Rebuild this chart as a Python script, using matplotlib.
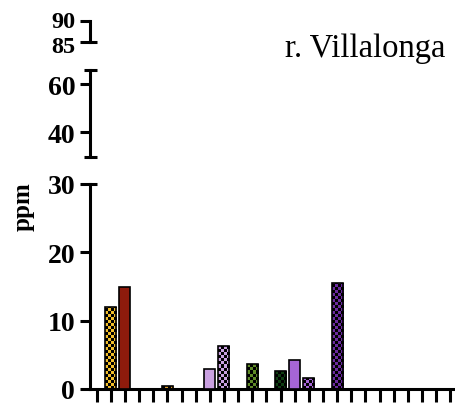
import numpy as np
import matplotlib
matplotlib.use("Agg")
import matplotlib.pyplot as plt
from matplotlib.colors import ListedColormap
from matplotlib.lines import Line2D
from matplotlib.transforms import ScaledTranslation

# ---- data ----
positions = [1, 2, 5, 8, 9, 11, 13, 14, 15, 17]
values = [12.0, 14.9, 0.5, 2.9, 6.3, 3.7, 2.7, 4.3, 1.6, 15.5]
colors = ["#F2BE2A", "#8E1B0C", "#E0A030", "#C9A0E0", "#C9A0E0",
          "#5E8A26", "#0F3F12", "#A665D6", "#A665D6", "#6A2A9E"]
patterns = ["checker", "solid", "checker", "solid", "checker",
            "checker", "checker", "solid", "checker", "checker"]
n_ticks = 26
bottom_ticks = [0, 10, 20, 30]
middle_ticks = [40, 60]
top_ticks = [85, 90]
title = "r. Villalonga"
ylabel = "ppm"

W, H = 455, 406
fig = plt.figure(figsize=(W / 100, H / 100), dpi=100)
serif = ["Liberation Serif", "DejaVu Serif"]
plt.rcParams["font.family"] = serif

xl = (-0.47, 25.33)
left = 90 / W
width = (W - 90) / W
lw_spine = 2.2
tick_fs = 20

def fr(ytop, ybot):
    return (H - ybot) / H, (ybot - ytop) / H

b0, h0 = fr(185, 390)
b1, h1 = fr(71, 158.3)
b2, h2 = fr(21.7, 43.3)
ax_b = fig.add_axes([left, b0, width, h0])
ax_m = fig.add_axes([left, b1, width, h1])
ax_t = fig.add_axes([left, b2, width, h2])

for ax in (ax_b, ax_m, ax_t):
    ax.set_xlim(*xl)
    for s in ("top", "right"):
        ax.spines[s].set_visible(False)
    ax.spines["left"].set_linewidth(lw_spine)
    ax.spines["bottom"].set_linewidth(lw_spine)
    ax.tick_params(axis="y", direction="out", length=7.2, width=lw_spine, pad=3.5,
                   labelsize=tick_fs)
    ax.patch.set_alpha(0)

for ax in (ax_m, ax_t):
    ax.spines["bottom"].set_visible(False)
    ax.set_xticks([])

ax_b.set_ylim(0, 30)
ax_m.set_ylim(29.65, 65.8)
ax_t.set_ylim(85, 90)
ax_b.set_yticks(bottom_ticks)
ax_m.set_yticks(middle_ticks)
ax_t.set_yticks(top_ticks)
for ax, tk in ((ax_b, bottom_ticks), (ax_m, middle_ticks)):
    ax.set_yticklabels([str(t) for t in tk], fontweight="bold", fontsize=tick_fs)
ax_t.set_yticklabels([str(t) for t in top_ticks], fontweight="bold", fontsize=17.5)
# nudge the crowded top labels apart slightly
tl = ax_t.get_yticklabels()
tl[0].set_transform(tl[0].get_transform() + ScaledTranslation(0, -2 / 100, fig.dpi_scale_trans))
tl[1].set_transform(tl[1].get_transform() + ScaledTranslation(0, 1.5 / 100, fig.dpi_scale_trans))

ax_b.set_xticks(np.arange(n_ticks))
ax_b.set_xticklabels([])
ax_b.tick_params(axis="x", direction="out", length=9, width=lw_spine)
ax_b.spines["bottom"].set_bounds(xl[0], xl[1])

# caps on segment ends
def cap(ax, y, lf=-0.0164, rt=0.0184):
    ln = Line2D([lf, rt], [y, y], transform=ax.get_yaxis_transform(),
                color="black", lw=lw_spine, clip_on=False, solid_capstyle="butt")
    ax.add_line(ln)

cap(ax_b, 30, lf=0, rt=0.0184)
cap(ax_m, 29.65)
cap(ax_m, 65.8)
cap(ax_t, 85, lf=0, rt=0.0184)

# bars
bw = 0.78
bars = ax_b.bar(positions, values, width=bw, color=colors,
                edgecolor="black", linewidth=1.2, zorder=3)
px_per_unit = (390 - 185) / 30.0
cell_y = 3.0 / px_per_unit
for rect, col, pat in zip(bars, colors, patterns):
    if pat != "checker":
        continue
    x0 = rect.get_x()
    h = rect.get_height()
    nx = 4
    ny = max(1, int(np.ceil(h / cell_y)))
    arr = (np.add.outer(np.arange(ny), np.arange(nx)) % 2).astype(float)
    im = ax_b.imshow(arr, cmap=ListedColormap(["black", col]), vmin=0, vmax=1,
                     extent=(x0, x0 + bw, 0, ny * cell_y), origin="lower",
                     interpolation="nearest", aspect="auto", zorder=2.5)
    im.set_clip_path(rect)
    rect.set_facecolor("none")
ax_b.set_xlim(*xl)
ax_b.set_ylim(0, 30)

fig.text(23 / W, 1 - 207 / H, ylabel, rotation=90, ha="center", va="center",
         fontsize=18, fontweight="bold")
fig.text(445 / W, 1 - 57 / H, title, ha="right", va="baseline", fontsize=23.5)

fig.savefig("out.png", dpi=100)
